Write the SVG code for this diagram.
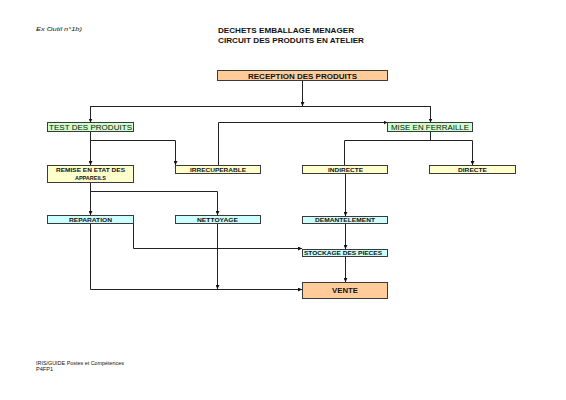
<svg xmlns="http://www.w3.org/2000/svg" width="566" height="400" viewBox="0 0 566 400">
<defs>
<marker id="ah" viewBox="0 0 6 6" refX="6" refY="3" markerWidth="4" markerHeight="4" orient="auto" markerUnits="userSpaceOnUse">
<path d="M0,0 L6,3 L0,6 z" fill="#111"/>
</marker>
<style>
.bx{stroke:#3a3a3a;stroke-width:1}
.peach{fill:#FFCC99}
.green{fill:#CCFFCC}
.yellow{fill:#FFFFCC}
.cyan{fill:#CCFFFF}
text{font-family:"Liberation Sans",Arial,sans-serif;fill:#111}
.big{font-size:8px;font-weight:bold}
.mid{font-size:8px}
.sm{font-size:5.5px;font-weight:bold}
.ln{fill:none;stroke:#222;stroke-width:1}
.arr{marker-end:url(#ah)}
</style>
</defs>
<rect width="566" height="400" fill="#fff"/>
<text x="36" y="31" style="font-size:5.5px;font-style:italic" textLength="46" lengthAdjust="spacingAndGlyphs">Ex Outil n°1b)</text>
<text x="218" y="33" class="big" textLength="136" lengthAdjust="spacingAndGlyphs">DECHETS EMBALLAGE MENAGER</text>
<text x="218" y="43" class="big" textLength="146" lengthAdjust="spacingAndGlyphs">CIRCUIT DES PRODUITS EN ATELIER</text>
<text x="36" y="365" style="font-size:4.5px" textLength="88" lengthAdjust="spacingAndGlyphs">IRIS/GUIDE Postes et Compétences</text>
<text x="36" y="371" style="font-size:4.5px" textLength="17" lengthAdjust="spacingAndGlyphs">P4FP1</text>
<g id="connectors">
<path class="ln arr" d="M302.5,81 V106"/>
<path class="ln" d="M90.5,106.5 H430.5"/>
<path class="ln arr" d="M90.5,106 V122.5"/>
<path class="ln arr" d="M430.5,106 V122.5"/>
<path class="ln arr" d="M90.5,132 V165"/>
<path class="ln arr" d="M90.5,140.5 H175.5 V165"/>
<path class="ln arr" d="M218.5,165 V122.5 H387.5"/>
<path class="ln" d="M430.5,132 V140.5"/>
<path class="ln arr" d="M344.5,165 V140.5 H472.5 V165"/>
<path class="ln arr" d="M90.5,182 V215"/>
<path class="ln arr" d="M90.5,191.5 H217.5 V215"/>
<path class="ln arr" d="M345.5,173 V216"/>
<path class="ln arr" d="M345.5,222 V249"/>
<path class="ln arr" d="M345.5,256 V282"/>
<path class="ln arr" d="M133.5,223 V248.5 H302"/>
<path class="ln arr" d="M90.5,223 V289.5 H302"/>
<path class="ln arr" d="M217.5,223 V289"/>
</g>
<g id="reception">
<rect class="bx peach" x="217.5" y="70.5" width="170" height="10"/>
<text x="248" y="78.5" class="big" textLength="109" lengthAdjust="spacingAndGlyphs">RECEPTION DES PRODUITS</text>
</g>
<g id="test">
<rect class="bx green" x="47.5" y="122.5" width="86" height="9"/>
<text x="49" y="130" class="mid" textLength="83" lengthAdjust="spacingAndGlyphs">TEST DES PRODUITS</text>
</g>
<g id="mise">
<rect class="bx green" x="387.5" y="122.5" width="85" height="9"/>
<text x="391" y="130" class="mid" textLength="78" lengthAdjust="spacingAndGlyphs">MISE EN FERRAILLE</text>
</g>
<g id="remise">
<rect class="bx yellow" x="47.5" y="165.5" width="86" height="17"/>
<text x="56" y="172" class="sm" textLength="69" lengthAdjust="spacingAndGlyphs">REMISE EN ETAT DES</text>
<text x="90.5" y="179.5" class="sm" text-anchor="middle">APPAREILS</text>
</g>
<g id="irrecuperable">
<rect class="bx yellow" x="175.5" y="165.5" width="85" height="8"/>
<text x="190" y="171.5" class="sm" textLength="56" lengthAdjust="spacingAndGlyphs">IRRECUPERABLE</text>
</g>
<g id="indirecte">
<rect class="bx yellow" x="302.5" y="165.5" width="85" height="8"/>
<text x="328" y="171.5" class="sm" textLength="35" lengthAdjust="spacingAndGlyphs">INDIRECTE</text>
</g>
<g id="directe">
<rect class="bx yellow" x="429.5" y="165.5" width="86" height="8"/>
<text x="458" y="171.5" class="sm" textLength="29" lengthAdjust="spacingAndGlyphs">DIRECTE</text>
</g>
<g id="reparation">
<rect class="bx cyan" x="47.5" y="215.5" width="86" height="8"/>
<text x="69" y="221.5" class="sm" textLength="43" lengthAdjust="spacingAndGlyphs">REPARATION</text>
</g>
<g id="nettoyage">
<rect class="bx cyan" x="175.5" y="215.5" width="85" height="8"/>
<text x="197" y="221.5" class="sm" textLength="41" lengthAdjust="spacingAndGlyphs">NETTOYAGE</text>
</g>
<g id="demantelement">
<rect class="bx cyan" x="302.5" y="216.5" width="85" height="7"/>
<text x="315" y="222" class="sm" textLength="60" lengthAdjust="spacingAndGlyphs">DEMANTELEMENT</text>
</g>
<g id="stockage">
<rect class="bx cyan" x="302.5" y="249.5" width="85" height="7"/>
<text x="304" y="255" class="sm" textLength="78" lengthAdjust="spacingAndGlyphs">STOCKAGE DES PIECES</text>
</g>
<g id="vente">
<rect class="bx peach" x="302.5" y="282.5" width="85" height="16"/>
<text x="332" y="293" class="big" textLength="26" lengthAdjust="spacingAndGlyphs">VENTE</text>
</g>
</svg>
